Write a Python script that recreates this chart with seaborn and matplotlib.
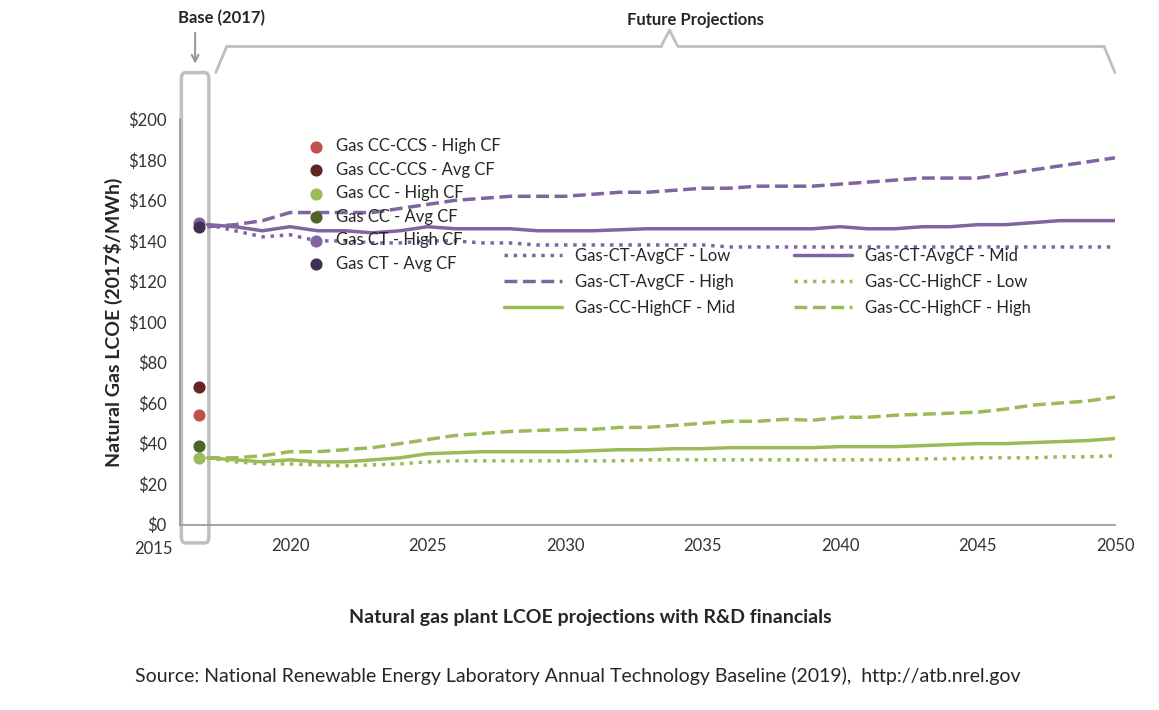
import matplotlib
matplotlib.use("Agg")
import matplotlib.pyplot as plt
import seaborn as sns
import pandas as pd
from matplotlib.patches import FancyBboxPatch

years = list(range(2017, 2051))
ct_low = [148,145,142,143,140,140,139,139,140,140,139,139,138,138,138,138,138,138,138,137,137,137,137,137,137,137,137,137,137,137,137,137,137,137]
ct_mid = [148,147,145,147,145,145,144,145,147,146,146,146,145,145,145,145.5,146,146,146,146,146,146,146,147,146,146,147,147,148,148,149,150,150,150]
ct_high = [147,148,150,154,154,154,154,156,158,160,161,162,162,162,163,164,164,165,166,166,167,167,167,168,169,170,171,171,171,173,175,177,179,181]
cc_low = [33,31,30,30,29.5,29,29.5,30,31,31.5,31.5,31.5,31.5,31.5,31.5,31.5,32,32,32,32,32,32,32,32,32,32,32.5,32.5,33,33,33,33.5,33.5,34]
cc_mid = [33,32,31,32,31,31,32,33,35,35.5,36,36,36,36,36.5,37,37,37.5,37.5,38,38,38,38,38.5,38.5,38.5,39,39.5,40,40,40.5,41,41.5,42.5]
cc_high = [33,33,34,36,36,37,38,40,42,44,45,46,46.5,47,47,48,48,49,50,51,51,52,51.5,53,53,54,54.5,55,55.5,57,59,60,61,63]

base_labels = ["Gas CC-CCS - High CF","Gas CC-CCS - Avg CF","Gas CC - High CF","Gas CC - Avg CF","Gas CT - High CF","Gas CT - Avg CF"]
base_values = [54,68,33,39,149,147]
base_colors = ["#c0504d","#632523","#9bbb59","#4f6228","#8064a2","#3f3151"]
base_year = 2016.7

sns.set_theme(style="white")
plt.rcParams['font.family'] = ['Lato', 'DejaVu Sans']

fig = plt.figure(figsize=(11.59, 7.10), dpi=100)
ax = fig.add_axes([180/1159, 0.261, (1115-180)/1159, 0.571])

purple = "#8064a2"; green = "#9bbb59"
series = [("Gas-CT-AvgCF - Low", ct_low, purple, ":"),
          ("Gas-CT-AvgCF - Mid", ct_mid, purple, "-"),
          ("Gas-CT-AvgCF - High", ct_high, purple, "--"),
          ("Gas-CC-HighCF - Low", cc_low, green, ":"),
          ("Gas-CC-HighCF - Mid", cc_mid, green, "-"),
          ("Gas-CC-HighCF - High", cc_high, green, "--")]
line_handles = []
for name, vals, c, ls in series:
    df = pd.DataFrame({"year": years, "v": vals})
    sns.lineplot(data=df, x="year", y="v", ax=ax, color=c, linestyle=ls, linewidth=2.5, label=name, legend=False)
    line_handles.append(ax.get_lines()[-1])

pt_handles = []
for lab, v, c in zip(base_labels, base_values, base_colors):
    h = ax.scatter([base_year], [v], color=c, s=60, zorder=5, label=lab)
    pt_handles.append(h)

ax.set_xlim(2016, 2050); ax.set_ylim(0, 200)
ax.set_xticks(range(2020, 2051, 5))
ax.set_yticks(range(0, 201, 20))
ax.set_yticklabels([f"${v}" for v in range(0, 201, 20)])
ax.tick_params(labelsize=12, colors="#333333")
fig.text(153/1159, 1-549/710, "2015", fontsize=12, color="#333333", ha="center", va="center")
for s in ["top", "right"]:
    ax.spines[s].set_visible(False)
for s in ["left", "bottom"]:
    ax.spines[s].set_color("#999999")
ax.set_xlabel(""); ax.set_ylabel("Natural Gas LCOE (2017$/MWh)", fontsize=14, fontweight="bold")

leg1 = ax.legend(handles=pt_handles, labels=base_labels, loc="upper left", bbox_to_anchor=(0.12, 0.97),
                 frameon=False, fontsize=12, handletextpad=0.2, labelspacing=0.45, borderaxespad=0)
ax.add_artist(leg1)
order = [0, 2, 4, 1, 3, 5]
ax.legend(handles=[line_handles[i] for i in order], labels=[series[i][0] for i in order],
          loc="upper left", bbox_to_anchor=(0.33, 0.72),
          ncol=2, frameon=False, fontsize=12, handlelength=3.5, columnspacing=3.5, labelspacing=0.6)

# base box
box = FancyBboxPatch((2016.05, -9), 1.0, 232, boxstyle="round,pad=0,rounding_size=0.15",
                     fill=False, edgecolor="#bfbfbf", linewidth=2.5, clip_on=False, mutation_aspect=20)
ax.add_patch(box)
fig.text(178/1159, 1-18/710, "Base (2017)", fontsize=12, fontweight="bold", va="center")
ax.annotate("", xy=(2016.55, 226), xytext=(2016.55, 244), xycoords="data",
            arrowprops=dict(arrowstyle="->", color="#999999", lw=1.5), annotation_clip=False)
# brace
g = "#bfbfbf"
ax.plot([2017.3, 2017.7], [223, 236], color=g, lw=2, clip_on=False)
ax.plot([2017.7, 2033.5], [236, 236], color=g, lw=2, clip_on=False)
ax.plot([2033.5, 2033.8, 2034.1], [236, 244, 236], color=g, lw=2, clip_on=False)
ax.plot([2034.1, 2049.6], [236, 236], color=g, lw=2, clip_on=False)
ax.plot([2049.6, 2050.0], [236, 223], color=g, lw=2, clip_on=False)
fig.text(695/1159, 1-20/710, "Future Projections", fontsize=12, fontweight="bold", ha="center", va="center")

fig.text(590/1159, 1-618/710, "Natural gas plant LCOE projections with R&D financials", fontsize=14,
         fontweight="bold", ha="center", va="center")
fig.text(578/1159, 1-676/710, "Source: National Renewable Energy Laboratory Annual Technology Baseline (2019),  http://atb.nrel.gov",
         fontsize=14, ha="center", va="center")
fig.savefig("out.png", dpi=100)
